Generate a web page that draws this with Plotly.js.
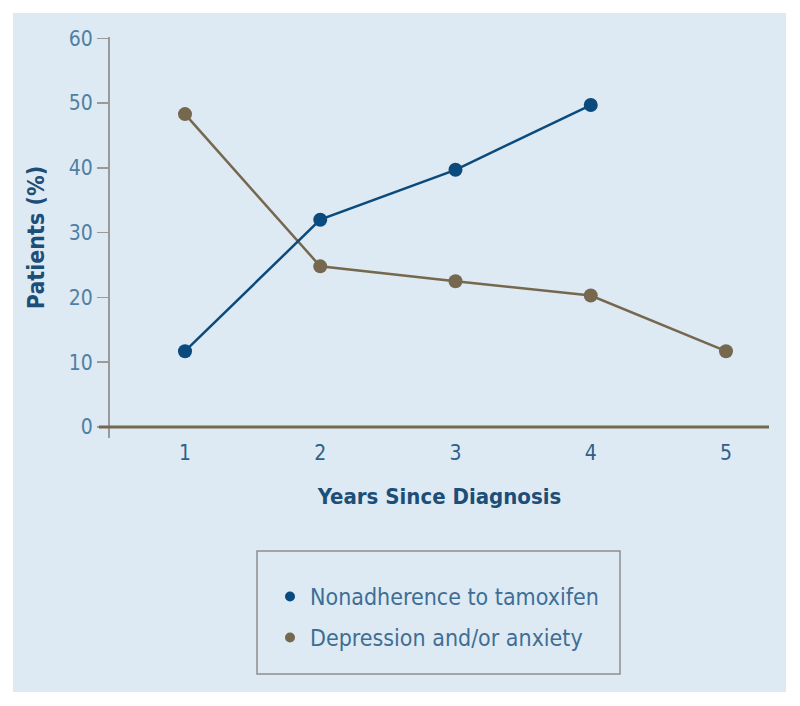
<!DOCTYPE html>
<html>
<head>
<meta charset="utf-8">
<script src="https://cdn.plot.ly/plotly-3.0.1.min.js"></script>
<style>
  html, body { margin: 0; padding: 0; background: #fff; }
  #myPlot { width: 800px; height: 706px; }
</style>
</head>
<body>
<div id="myPlot"></div>
<script>
// data
var years = [1, 2, 3, 4, 5];
var nonadherence = [11.7, 32, 39.7, 49.7, null];
var depression = [48.3, 24.8, 22.5, 20.3, 11.7];
var seriesNames = ["Nonadherence to tamoxifen", "Depression and/or anxiety"];
var yTicks = [0, 10, 20, 30, 40, 50, 60];

var blue = '#0b4a7c';
var brown = '#76674f';
var font = '"DejaVu Sans Condensed", "DejaVu Sans", sans-serif';

// plot area in px: x 110..769, y 37..438
var W = 659, H = 401;
function px(x){ return (x - 110) / W; }
function py(y){ return (438 - y) / H; }

var trace1 = {x: years, y: nonadherence, mode: 'lines+markers', showlegend: false,
  line: {color: blue, width: 2.5}, marker: {color: blue, size: 14}};
var trace2 = {x: years, y: depression, mode: 'lines+markers', showlegend: false,
  line: {color: brown, width: 2.5}, marker: {color: brown, size: 14}};
// legend-only entries (dot without line)
var leg1 = {x: [null], y: [null], mode: 'markers', name: seriesNames[0], legend: 'legend',
  marker: {color: blue, size: 10}};
var leg2 = {x: [null], y: [null], mode: 'markers', name: seriesNames[1], legend: 'legend2',
  marker: {color: brown, size: 10}};

var legendStyle = function(yTop){
  return {x: px(270), y: py(yTop), xanchor: 'left', yanchor: 'top',
    bgcolor: 'rgba(0,0,0,0)', borderwidth: 0,
    font: {family: font, size: 23, color: '#3e6e95'}};
};

var layout = {
  width: 800, height: 706,
  margin: {l: 110, r: 31, t: 37, b: 268},
  paper_bgcolor: '#ffffff',
  plot_bgcolor: 'rgba(0,0,0,0)',
  xaxis: {
    range: [0.4455, 5.318], tickvals: years, ticks: '', showline: false,
    showgrid: false, zeroline: false,
    tickfont: {family: font, size: 21, color: '#2f6087'},
    title: {text: 'Years Since Diagnosis', standoff: 24,
      font: {family: font, size: 22, color: '#1c4e78', weight: 'bold'}}
  },
  yaxis: {
    range: [-1.7, 60.2], tickvals: yTicks, ticks: 'outside', ticklen: 11, tickwidth: 1.5,
    tickcolor: '#9a9a9a', showline: true, linecolor: '#9a9a9a', linewidth: 2,
    showgrid: false, zeroline: false,
    tickfont: {family: font, size: 21, color: '#4f7fa3'},
    title: {text: 'Patients (%)', standoff: 18,
      font: {family: font, size: 23, color: '#1c4e78', weight: 'bold'}}
  },
  legend: legendStyle(575),
  legend2: legendStyle(616),
  shapes: [
    // light blue panel
    {type: 'rect', xref: 'paper', yref: 'paper', layer: 'below',
      x0: px(13), x1: px(786), y0: py(692), y1: py(13),
      fillcolor: '#ddeaf3', line: {width: 0}},
    // x axis line at zero
    {type: 'line', xref: 'paper', yref: 'y', layer: 'above',
      x0: px(99), x1: 1, y0: 0, y1: 0, line: {color: brown, width: 3}},
    // legend box
    {type: 'rect', xref: 'paper', yref: 'paper', layer: 'below',
      x0: px(257), x1: px(620), y0: py(674), y1: py(551),
      line: {color: '#8f8f8f', width: 1.5}}
  ]
};

Plotly.newPlot('myPlot', [trace2, trace1, leg1, leg2], layout, {displayModeBar: false, staticPlot: true});
</script>
</body>
</html>
